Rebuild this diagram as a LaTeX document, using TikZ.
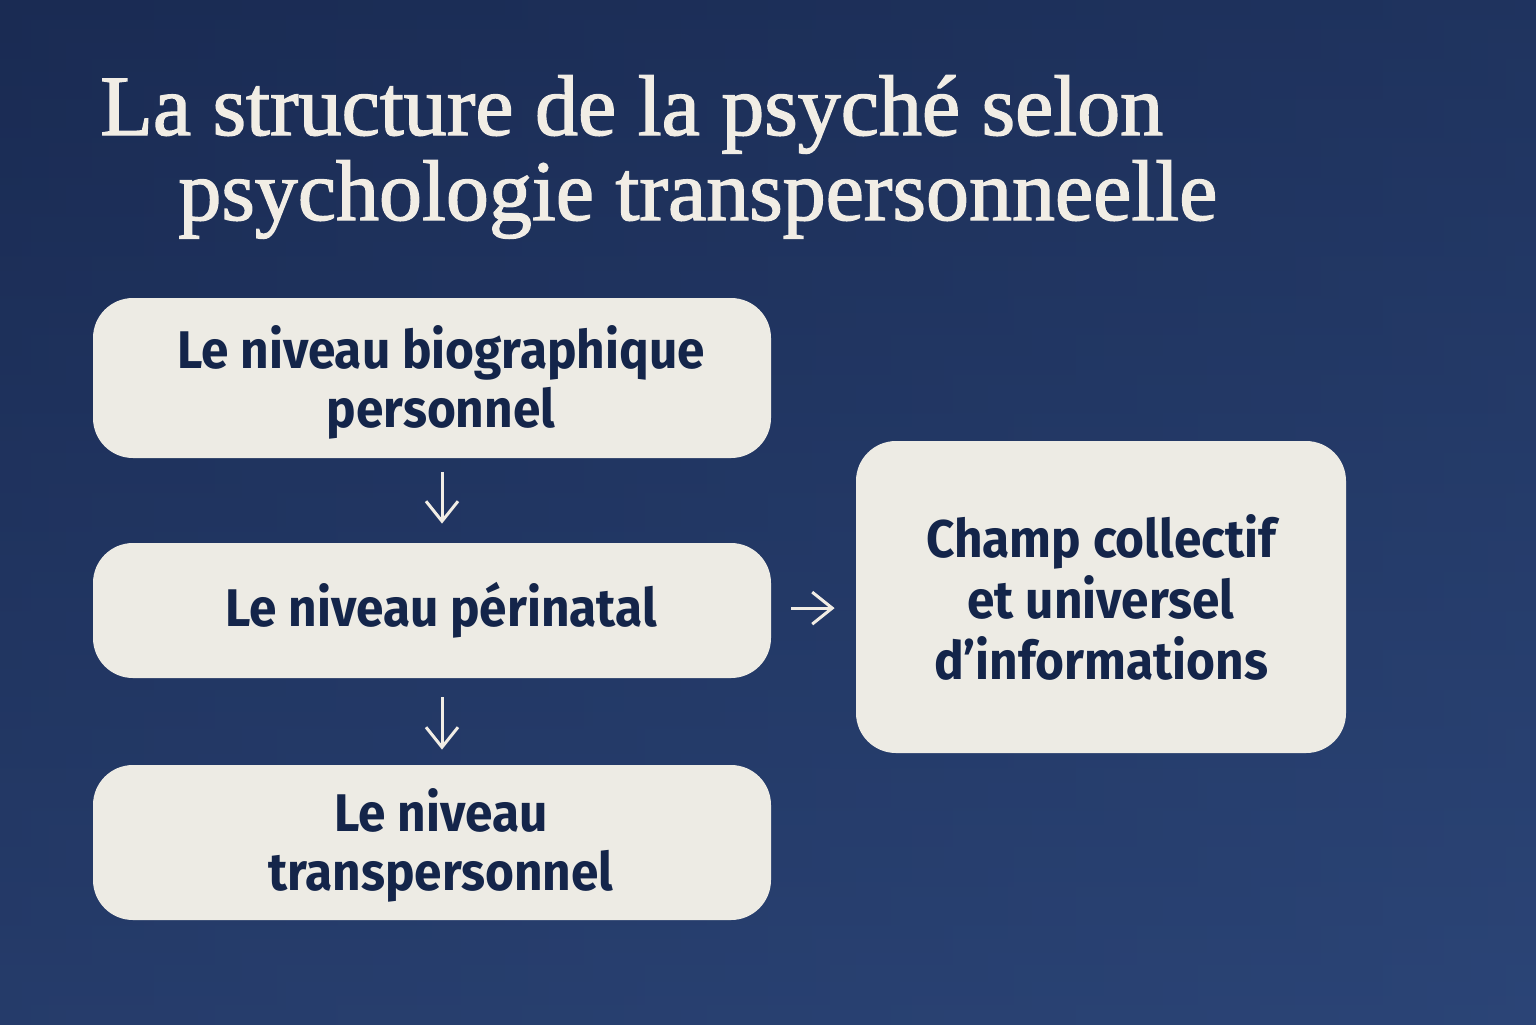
\documentclass[tikz,border=0pt]{standalone}
\usepackage{fontspec}
\setmainfont{Liberation Serif}
\newfontfamily\titlefont{Liberation Serif}[FakeBold=1.6]
\newfontfamily\boxfont{Fira Sans}[FakeStretch=0.935]
\usetikzlibrary{arrows.meta}
\definecolor{bgtop}{HTML}{1A2B53}
\definecolor{bgbot}{HTML}{2C4577}
\definecolor{bgright}{HTML}{2A4476}
\definecolor{boxfill}{HTML}{EDEBE4}
\definecolor{ink}{HTML}{14254A}
\definecolor{titlec}{HTML}{F1EDE5}
\tikzset{
  levelbox/.style={rectangle, rounded corners=20pt, fill=boxfill, draw=none, inner sep=0pt},
  lbl/.style={text=ink, font=\boxfont\bfseries\fontsize{26.5}{29.5}\selectfont, align=center, inner sep=0pt},
  ttl/.style={text=titlec, font=\titlefont\fontsize{43}{43}\selectfont, inner sep=0pt, anchor=base west},
  flow/.style={draw=titlec, line width=1.5pt, -{Straight Barb[length=10pt,width=16pt,line width=1.5pt]}}
}
\begin{document}
\begin{tikzpicture}[x=0.5pt,y=-0.5pt]
\useasboundingbox (0,0) rectangle (1536,1024);
\shade[top color=bgtop, bottom color=bgbot] (0,0) rectangle (1536,1024);
\shade[left color=bgtop, right color=bgright, opacity=0.35] (0,0) rectangle (1536,1024);

\node[ttl] (t1) at (100,135) {La structure de la psyché selon};
\node[ttl] (t2) at (178,220) {psychologie transpersonneelle};

\node[levelbox, minimum width=339pt, minimum height=80pt] (b1) at (432,378) {};
\node[levelbox, minimum width=339pt, minimum height=67.5pt] (b2) at (432,610.5) {};
\node[levelbox, minimum width=339pt, minimum height=77.5pt] (b3) at (432,842.5) {};
\node[levelbox, minimum width=245pt, minimum height=156pt] (b4) at (1101,597) {};

\node[lbl] (l1) at ([xshift=4.5pt,yshift=-2pt]b1.center) {Le niveau biographique\\personnel};
\node[lbl] (l2) at ([xshift=4.5pt]b2.center) {Le niveau périnatal};
\node[lbl] (l3) at ([xshift=4.5pt,yshift=-1.5pt]b3.center) {Le niveau\\transpersonnel};
\node[lbl, font=\boxfont\bfseries\fontsize{26.5}{30.5}\selectfont] (l4) at (b4.center) {Champ collectif\\et universel\\d’informations};

\draw[flow, shorten <=7pt, shorten >=9.5pt] ([xshift=5pt]b1.south) -- ([xshift=5pt]b2.north);
\draw[flow, shorten <=9.5pt, shorten >=7.5pt] ([xshift=5pt]b2.south) -- ([xshift=5pt]b3.north);
\draw[flow, shorten <=10pt, shorten >=10.5pt] ([yshift=1.2pt]b2.east) -- ([yshift=1.2pt]b2.east -| b4.west);
\end{tikzpicture}
\end{document}
